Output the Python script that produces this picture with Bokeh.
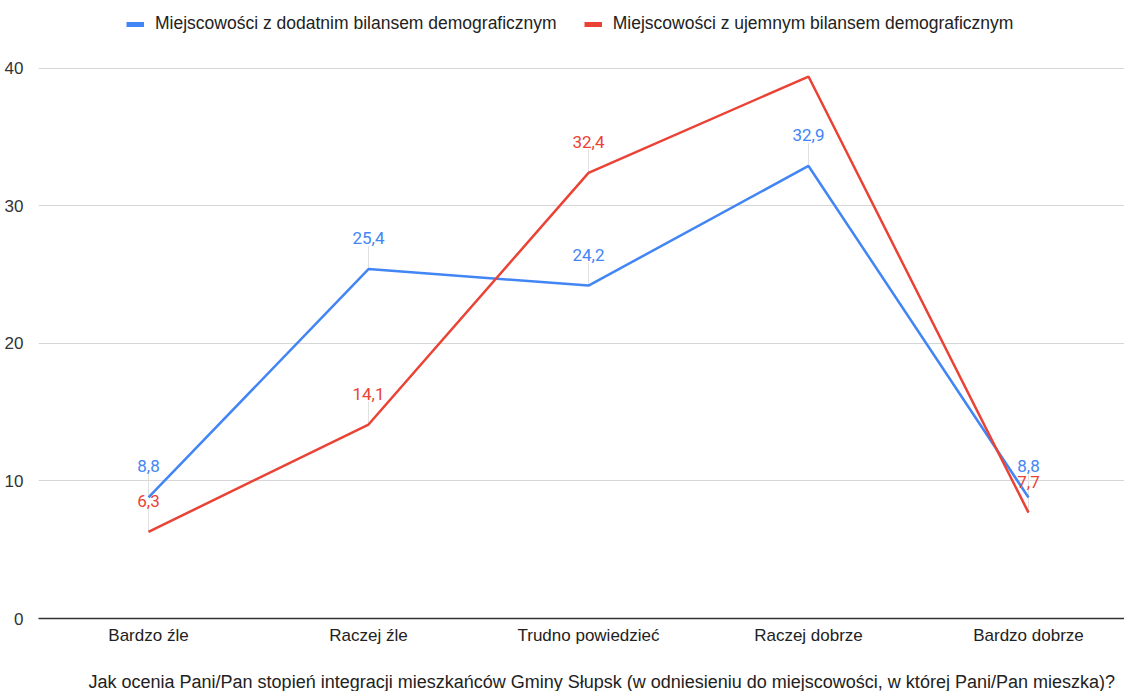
from bokeh.plotting import figure
from bokeh.models import ColumnDataSource, FixedTicker, Legend, LegendItem, Range1d, Title
from bokeh.core.properties import value
from bokeh.embed import file_html
from bokeh.resources import INLINE

# ---- data ----
categories = ["Bardzo źle", "Raczej źle", "Trudno powiedzieć", "Raczej dobrze", "Bardzo dobrze"]
positive = [8.8, 25.4, 24.2, 32.9, 8.8]
negative = [6.3, 14.1, 32.4, 39.4, 7.7]
positive_label_shown = [True, True, True, True, True]
negative_label_shown = [True, True, True, False, True]
series_names = ["Miejscowości z dodatnim bilansem demograficznym",
                "Miejscowości z ujemnym bilansem demograficznym"]
y_ticks = [0, 10, 20, 30, 40]
x_title = ("Jak ocenia Pani/Pan stopień integracji mieszkańców Gminy Słupsk "
           "(w odniesieniu do miejscowości, w której Pani/Pan mieszka)?")

# ---- style ----
BLUE = "#4285F4"
RED = "#EA4335"
FONT = "Liberation Sans"
W, H = 1124, 691
LEFT, BOTTOM = 38, 71
FRAME_H = H - BOTTOM
PX_PER_UNIT = (FRAME_H - 68) / 40.0
Y_END = FRAME_H / PX_PER_UNIT
CAT_STEP = 220
X_START = -110 / CAT_STEP
X_END = X_START + (W - LEFT) / CAT_STEP
LABEL_OFFSET = 31
LEADER_PX = 23
LEGEND_CY = 25.5
LEGEND_H = 22
TITLE_X = 88
TITLE_GAP = 19

xs = list(range(len(categories)))

p = figure(width=W, height=H, output_backend="svg", toolbar_location=None, title=None,
           x_range=Range1d(X_START, X_END), y_range=Range1d(0, Y_END),
           min_border_left=LEFT, min_border_right=0, min_border_top=0,
           min_border_bottom=BOTTOM)
p.outline_line_color = None
p.background_fill_color = "white"
p.border_fill_color = "white"

# axes
p.xaxis.ticker = FixedTicker(ticks=xs)
p.xaxis.major_label_overrides = {i: c for i, c in enumerate(categories)}
p.xaxis.major_tick_line_color = None
p.xaxis.minor_tick_line_color = None
p.xaxis.axis_line_color = "#333333"
p.xaxis.axis_line_width = 1.5
p.xaxis.major_label_text_font = FONT
p.xaxis.major_label_text_font_size = "17px"
p.xaxis.major_label_text_color = "#222222"
p.xaxis.major_label_standoff = 1

p.yaxis.ticker = FixedTicker(ticks=y_ticks)
p.yaxis.axis_line_color = None
p.yaxis.major_tick_line_color = None
p.yaxis.minor_tick_line_color = None
p.yaxis.major_label_text_font = FONT
p.yaxis.major_label_text_font_size = "17px"
p.yaxis.major_label_text_color = "#333333"
p.yaxis.major_label_standoff = 9

p.xgrid.grid_line_color = None
p.ygrid.grid_line_color = "#d6d6d6"
p.ygrid.grid_line_width = 1

# x-axis title, placed below the axis and slightly right of the plot centre
p.add_layout(Title(text=" ", text_font_size="1px", standoff=TITLE_GAP), "below")
p.add_layout(Title(text=x_title, align="left", offset=TITLE_X - LEFT,
                   text_font=FONT, text_font_size="18px", text_font_style="normal",
                   text_color="#222222", standoff=0), "below")


def label_source(vals, shown):
    xx, yy, tt, yt = [], [], [], []
    for x, v, s in zip(xs, vals, shown):
        if s:
            xx.append(x)
            yy.append(v)
            tt.append(f"{v:.1f}".replace(".", ","))
            yt.append(v + LEADER_PX / PX_PER_UNIT)
    return ColumnDataSource(dict(x=xx, y=yy, text=tt, ytop=yt))


src_pos = label_source(positive, positive_label_shown)
src_neg = label_source(negative, negative_label_shown)

# leader lines
for src in (src_pos, src_neg):
    p.segment(x0="x", y0="y", x1="x", y1="ytop", source=src,
              line_color="#e0e0e0", line_width=1)

# lines
p.line(xs, positive, line_color=BLUE, line_width=2.5)
p.line(xs, negative, line_color=RED, line_width=2.5)

# data labels
for src, col in ((src_pos, BLUE), (src_neg, RED)):
    p.text(x="x", y="y", text="text", source=src, text_align="center",
           text_baseline="middle", y_offset=-LABEL_OFFSET,
           text_font=value("Roboto"), text_font_size="17px", text_color=col)

# legend swatches (hidden thick lines, used only for the legend glyph)
sw_blue = p.line(xs, positive, line_color=BLUE, line_width=5, visible=False)
sw_red = p.line(xs, negative, line_color=RED, line_width=5, visible=False)
legend = Legend(items=[LegendItem(label=series_names[0], renderers=[sw_blue]),
                       LegendItem(label=series_names[1], renderers=[sw_red])],
                orientation="horizontal",
                location=(126 - LEFT, FRAME_H - (LEGEND_CY + LEGEND_H / 2)),
                glyph_width=18, glyph_height=LEGEND_H, label_height=LEGEND_H,
                label_text_font=FONT, label_text_font_size="17.5px",
                label_text_color="#222222", label_standoff=11, spacing=27,
                padding=0, margin=0, border_line_color=None,
                background_fill_alpha=0, inactive_fill_alpha=0)
p.add_layout(legend)

open("out.html", "w").write(file_html(p, INLINE))
